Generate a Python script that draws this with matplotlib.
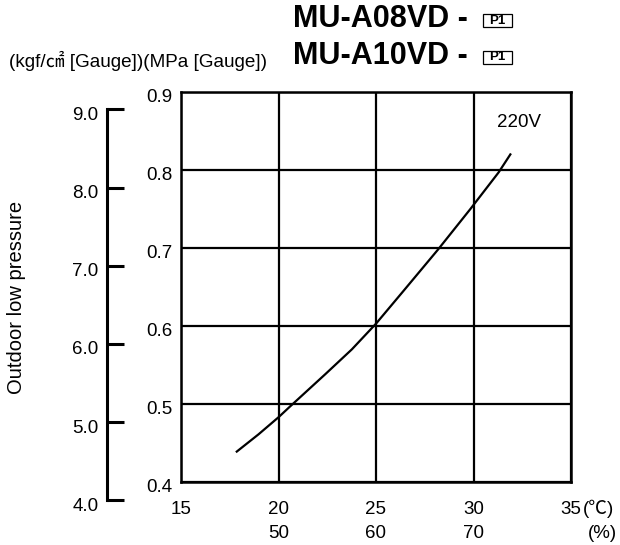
import numpy as np
import matplotlib
matplotlib.use('Agg')
import matplotlib.pyplot as plt
import matplotlib.transforms as mtransforms
from matplotlib.patches import Rectangle

plt.rcParams['font.family'] = ['Liberation Sans', 'Noto Sans CJK JP', 'DejaVu Sans']

# curve: outdoor temp (C) vs low pressure (MPa gauge)
temp = [17.86, 18.97, 20.0, 20.6, 22.39, 23.76, 25.0, 26.41, 28.18, 29.84, 31.29, 31.89]
press = [0.439, 0.461, 0.483, 0.497, 0.538, 0.570, 0.603, 0.645, 0.698, 0.750, 0.797, 0.820]

x_ticks = [15, 20, 25, 30, 35]
x_top_labels = ['15', '20', '25', '30', '35']
x_bot_labels = ['', '50', '60', '70', '']
mpa_ticks = [0.4, 0.5, 0.6, 0.7, 0.8, 0.9]
kgf_ticks = [4.0, 5.0, 6.0, 7.0, 8.0, 9.0]

W, H = 620, 545
fs = 13.5
fig = plt.figure(figsize=(W / 100, H / 100), dpi=100)

def px_box(l, t, r, b):
    return [l / W, 1 - b / H, (r - l) / W, (b - t) / H]

ax = fig.add_axes(px_box(181, 92, 571, 482))
ax.set_xlim(15, 35)
ax.set_ylim(0.4, 0.9)
ax.set_xticks(x_ticks)
ax.set_yticks(mpa_ticks)
ax.set_yticklabels(['%.1f' % v for v in mpa_ticks])
ax.set_xticklabels(['%s\n%s' % (a, b) for a, b in zip(x_top_labels, x_bot_labels)])
ax.grid(True, color='black', lw=1.6)
for s in ax.spines.values():
    s.set_linewidth(1.8)
ax.tick_params(length=0, labelsize=fs, colors='black')
ax.tick_params(axis='x', pad=14)
ax.tick_params(axis='y', pad=6)
for lab in ax.get_xticklabels():
    lab.set_linespacing(1.5)
down = mtransforms.ScaledTranslation(0, -4 / 100, fig.dpi_scale_trans)
for lab in ax.get_yticklabels():
    lab.set_transform(lab.get_transform() + down)

ax.plot(temp, press, color='black', lw=1.6)
ax.text(0.81, 0.923, '220V', transform=ax.transAxes, fontsize=fs, ha='left', va='center')

ax.annotate('(\u2103)', xy=(35, 0), xycoords=('data', 'axes fraction'),
            xytext=(12, -27), textcoords='offset pixels', fontsize=fs,
            ha='left', va='center')
ax.annotate('(%)', xy=(1, 0), xycoords='axes fraction',
            xytext=(46, -51), textcoords='offset pixels', fontsize=fs,
            ha='right', va='center')

# kgf/cm2 scale on the far left
ax2 = fig.add_axes(px_box(107, 109.3, 130, 500.3))
ax2.set_xlim(0, 1)
ax2.set_ylim(4.0, 9.0)
ax2.set_xticks([])
ax2.set_yticks(kgf_ticks)
ax2.set_yticklabels(['%.1f' % v for v in kgf_ticks])
ax2.patch.set_visible(False)
for k in ['top', 'right', 'bottom']:
    ax2.spines[k].set_visible(False)
ax2.spines['left'].set_linewidth(2.2)
ax2.tick_params(axis='y', direction='in', length=12.5, width=2.2, labelsize=fs, pad=6)
for lab in ax2.get_yticklabels():
    lab.set_transform(lab.get_transform() + down)

fig.text(17 / W, 1 - 297 / H, 'Outdoor low pressure', rotation=90, fontsize=14.5,
         ha='center', va='center')
fig.text(9 / W, 1 - 61 / H, '(kgf/\u33a0 [Gauge])(MPa [Gauge])', fontsize=13.6,
         ha='left', va='center')

for base, name in [(27.3, 'MU-A08VD -'), (63.5, 'MU-A10VD -')]:
    fig.text(293 / W, 1 - base / H, name, fontsize=22, fontweight='bold',
             ha='left', va='baseline')
    fig.patches.append(Rectangle((483 / W, 1 - base / H), 29 / W, 13 / H,
                                 transform=fig.transFigure, fill=False, lw=0.9,
                                 edgecolor='black'))
    fig.text(497.5 / W, 1 - (base - 6.5) / H, 'P1', fontsize=9.5, fontweight='bold',
             ha='center', va='center')

fig.savefig('out.png', dpi=100)
